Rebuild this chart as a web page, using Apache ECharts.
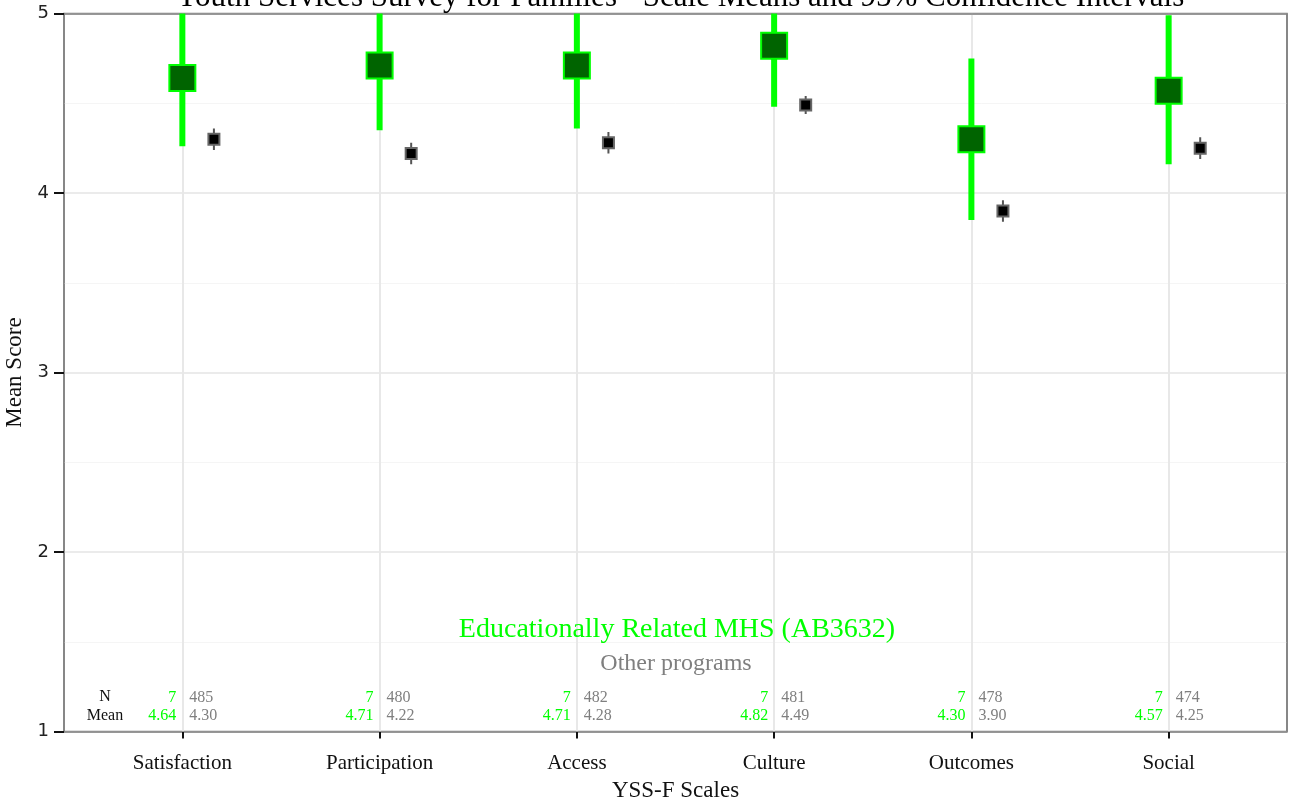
<!DOCTYPE html>
<html>
<head>
<meta charset="utf-8">
<script src="https://cdn.jsdelivr.net/npm/echarts@6/dist/echarts.min.js"></script>
<style>
  html, body { margin: 0; padding: 0; background: #ffffff; }
  #chart { width: 1291px; height: 804px; }
</style>
</head>
<body>
<div id="chart"></div>
<script>
const categories = ['Satisfaction', 'Participation', 'Access', 'Culture', 'Outcomes', 'Social'];
const groupMean = [4.64, 4.71, 4.71, 4.82, 4.30, 4.57];
const groupLow  = [4.26, 4.35, 4.36, 4.48, 3.85, 4.16];
const groupHigh = [5.02, 5.07, 5.06, 5.16, 4.75, 4.99];
const groupN    = [7, 7, 7, 7, 7, 7];
const otherMean = [4.30, 4.22, 4.28, 4.49, 3.90, 4.25];
const otherLow  = [4.24, 4.16, 4.22, 4.44, 3.84, 4.19];
const otherHigh = [4.36, 4.28, 4.34, 4.54, 3.96, 4.31];
const otherN    = [485, 480, 482, 481, 478, 474];
const yTicks = [1, 2, 3, 4, 5];
const titleText = 'Youth Services Survey for Families - Scale Means and 95% Confidence Intervals';
const groupName = 'Educationally Related MHS (AB3632)';
const otherName = 'Other programs';

const FONT = '"Liberation Serif", "DejaVu Serif", serif';
const GREEN = '#00ff00';
const DARKGREEN = '#006400';
const GRAYTXT = '#7f7f7f';
const BORDER = '#7f7f7f';
const OFFSET = 0.16;
const X_MIN = 0.4, X_MAX = 6.6, Y_MIN = 1, Y_MAX = 5;

const xPos = categories.map((c, i) => i + 1);

const groupData = categories.map((c, i) => [xPos[i], groupMean[i], groupLow[i], groupHigh[i]]);
const otherData = categories.map((c, i) => [xPos[i] + OFFSET, otherMean[i], otherLow[i], otherHigh[i]]);
const tableData = categories.map((c, i) => [xPos[i], groupN[i], groupMean[i], otherN[i], otherMean[i]]);

function errRender(style) {
  return function (params, api) {
    const x = api.value(0);
    const m = api.coord([x, api.value(1)]);
    const lo = api.coord([x, api.value(2)]);
    const hi = api.coord([x, api.value(3)]);
    const s = style.size;
    return {
      type: 'group',
      children: [
        { type: 'line', shape: { x1: lo[0], y1: lo[1], x2: hi[0], y2: hi[1] },
          style: { stroke: style.lineColor, lineWidth: style.lineWidth } },
        { type: 'rect', shape: { x: m[0] - s / 2, y: m[1] - s / 2, width: s, height: s },
          style: { fill: style.fill, stroke: style.stroke, lineWidth: style.strokeWidth } }
      ]
    };
  };
}

const chart = echarts.init(document.getElementById('chart'), null, { renderer: 'canvas' });

chart.setOption({
  backgroundColor: '#ffffff',
  animation: false,
  grid: {
    left: 64, right: 4, top: 13.5, bottom: 72.5,
    containLabel: false,
    outerBoundsMode: 'none',
    show: true, borderColor: BORDER, borderWidth: 1.5, backgroundColor: '#ffffff'
  },
  xAxis: {
    type: 'value', min: X_MIN, max: X_MAX,
    name: 'YSS-F Scales', nameLocation: 'middle', nameGap: 48,
    nameTextStyle: { fontFamily: FONT, fontSize: 23, color: '#111' },
    axisLine: { show: true, onZero: false, lineStyle: { color: BORDER, width: 1.5 } },
    axisTick: { show: true, customValues: xPos, length: 7, lineStyle: { color: '#111', width: 2 } },
    axisLabel: {
      customValues: xPos, margin: 21,
      formatter: v => categories[Math.round(v) - 1] || '',
      fontFamily: FONT, fontSize: 21, color: '#111'
    },
    splitLine: { show: false }
  },
  yAxis: {
    type: 'value', min: Y_MIN, max: Y_MAX, interval: 1,
    name: 'Mean Score', nameLocation: 'middle', nameGap: 33,
    nameTextStyle: { fontFamily: FONT, fontSize: 23, color: '#111' },
    axisLine: { show: true, onZero: false, lineStyle: { color: BORDER, width: 1.5 } },
    axisTick: { show: true, length: 10, lineStyle: { color: '#111', width: 2 } },
    axisLabel: { margin: 15, fontFamily: 'DejaVu Sans, sans-serif', fontSize: 18, color: '#222',
      formatter: v => yTicks.indexOf(v) >= 0 ? String(v) : '' },
    splitLine: { show: true, lineStyle: { color: '#e5e5e5', width: 1.5 } },
    minorTick: { show: false, splitNumber: 2 },
    minorSplitLine: { show: true, lineStyle: { color: '#f5f5f5', width: 1 } }
  },
  series: [
    {
      name: 'vgrid', type: 'line', data: [], silent: true, z: 1,
      markLine: {
        silent: true, symbol: 'none', animation: false,
        label: { show: false },
        lineStyle: { color: '#e8e8e8', width: 2, type: 'solid' },
        data: xPos.map(v => ({ xAxis: v }))
      }
    },
    {
      name: 'frame', type: 'line', data: [], silent: true, z: 8,
      markLine: {
        silent: true, symbol: 'none', animation: false,
        label: { show: false },
        lineStyle: { color: BORDER, width: 1.5, type: 'solid' },
        data: [{ yAxis: Y_MAX }, { xAxis: X_MAX }]
      }
    },
    {
      name: groupName, type: 'custom', clip: true, z: 5,
      renderItem: errRender({ size: 26, lineColor: GREEN, lineWidth: 6, fill: DARKGREEN, stroke: GREEN, strokeWidth: 2 }),
      encode: { x: 0, y: [1, 2, 3] },
      data: groupData
    },
    {
      name: otherName, type: 'custom', clip: true, z: 5,
      renderItem: errRender({ size: 11, lineColor: '#555555', lineWidth: 2, fill: '#000000', stroke: '#666666', strokeWidth: 2 }),
      encode: { x: 0, y: [1, 2, 3] },
      data: otherData
    },
    {
      name: 'table', type: 'custom', clip: false, z: 6, silent: true,
      renderItem: function (params, api) {
        const x = api.value(0);
        const rowN = api.coord([x, 1.19]);
        const rowM = api.coord([x, 1.085]);
        const st = (txt, px, py, color, align) => ({
          type: 'text', x: px, y: py,
          style: { text: txt, fill: color, font: '16px ' + FONT, textAlign: align, textVerticalAlign: 'middle' }
        });
        return {
          type: 'group',
          children: [
            st(String(api.value(1)), rowN[0] - 6, rowN[1], GREEN, 'right'),
            st(api.value(2).toFixed(2), rowM[0] - 6, rowM[1], GREEN, 'right'),
            st(String(api.value(3)), rowN[0] + 7, rowN[1], GRAYTXT, 'left'),
            st(api.value(4).toFixed(2), rowM[0] + 7, rowM[1], GRAYTXT, 'left')
          ]
        };
      },
      encode: { x: 0, y: 1 },
      data: tableData
    }
  ],
  graphic: [
    { type: 'text', x: 680, y: -2.5, z: 10, silent: true,
      style: { text: titleText, fill: '#000', font: '31px ' + FONT, textAlign: 'center', textVerticalAlign: 'middle' } },
    { type: 'text', x: 677, y: 630, z: 10, silent: true,
      style: { text: groupName, fill: GREEN, font: '28px ' + FONT, textAlign: 'center', textVerticalAlign: 'middle' } },
    { type: 'text', x: 676, y: 664, z: 10, silent: true,
      style: { text: otherName, fill: GRAYTXT, font: '24px ' + FONT, textAlign: 'center', textVerticalAlign: 'middle' } },
    { type: 'text', x: 105, y: 697, z: 10, silent: true,
      style: { text: 'N', fill: '#111', font: '16px ' + FONT, textAlign: 'center', textVerticalAlign: 'middle' } },
    { type: 'text', x: 105, y: 716, z: 10, silent: true,
      style: { text: 'Mean', fill: '#111', font: '16px ' + FONT, textAlign: 'center', textVerticalAlign: 'middle' } }
  ]
});
</script>
</body>
</html>
